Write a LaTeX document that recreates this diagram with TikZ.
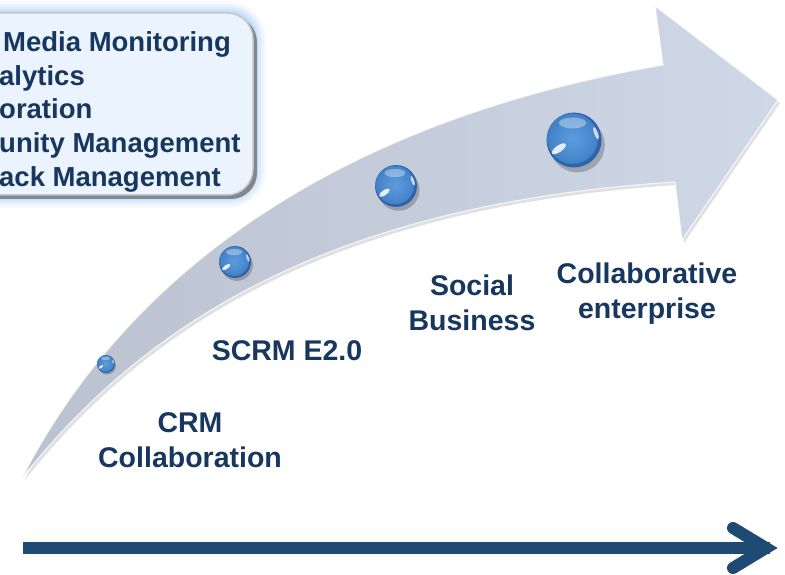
\documentclass[tikz,border=0pt]{standalone}
\usepackage{fontspec}
\setmainfont{Liberation Sans}
\definecolor{navy}{HTML}{17375E}
\definecolor{arrowA}{HTML}{BAC1CF}
\definecolor{arrowB}{HTML}{CFD8E7}
\definecolor{axis}{HTML}{1F4A74}
\definecolor{boxfill}{HTML}{EBF4FE}
\definecolor{halo}{HTML}{B3D3F4}
\definecolor{orbout}{HTML}{2F64A6}
\definecolor{orbin}{HTML}{5D9DDE}
\definecolor{orbmid}{HTML}{4281C6}
\tikzset{
  lbl/.style={font=\fontsize{28.5}{35}\selectfont\bfseries, text=navy, align=center, inner sep=0pt},
  boxt/.style={font=\fontsize{27.5}{30}\selectfont\bfseries, text=navy, inner sep=0pt, anchor=base west},
  orb/.pic={
    \fill[black, opacity=.22] (1.2,1.8) circle (10);
    \fill[orbout] (0,0) circle (10);
    \shade[inner color=orbin, outer color=orbmid] (-0.5,-0.5) circle (9.2);
    \fill[white, opacity=.35] (-0.5,-6.2) ellipse (5 and 2);
    \fill[white, opacity=.85, rotate around={35:(-5.5,3.2)}] (-5.5,3.2) ellipse (3 and 1.2);
    \fill[white, opacity=.7, rotate around={-70:(8,-2.5)}] (8,-2.5) ellipse (2.4 and 0.7);
  }
}
\begin{document}
\begin{tikzpicture}[x=1pt,y=-1pt]
\useasboundingbox (0,0) rectangle (785,575);
\clip (0,0) rectangle (785,575);
% curved arrow shadow
\fill[black, opacity=.12, shift={(2,3)}]
  (22,478) .. controls (150,230) and (400,110) .. (663,65) -- (655,6) -- (778,100)
  -- (682,240) -- (675,182) .. controls (320,205) and (140,330) .. (22,478) -- cycle;
% curved arrow
\path[left color=arrowA, right color=arrowB, draw=white, draw opacity=.7, line width=1.2pt, line join=round]
  (22,478) .. controls (150,230) and (400,110) .. (663,65) -- (655,6) -- (778,100)
  -- (682,240) -- (675,182) .. controls (320,205) and (140,330) .. (22,478) -- cycle;
% spheres
\pic[scale=0.9] (o1) at (106,364) {orb};
\pic[scale=1.6] (o2) at (235,262) {orb};
\pic[scale=2.1] (o3) at (396,186) {orb};
\pic[scale=2.75] (o4) at (574,140) {orb};
% box halo
\foreach \w/\o in {22/0.12,17/0.18,12/0.25,7/0.35,3/0.5}
  \draw[halo, line width=\w pt, opacity=\o, rounded corners=26pt] (-40,13) rectangle (255,197);
% box shadow and body
\fill[gray!85!black, opacity=.75, rounded corners=26pt] (-38,16) rectangle (257,199);
\draw[fill=boxfill, draw=gray!45, line width=1.5pt, rounded corners=26pt] (-40,13) rectangle (253,195);
% box text
\node[boxt] (b1) at (3,52) {Media Monitoring};
\node[boxt] (b2) at (-1,86) {alytics};
\node[boxt] (b3) at (-1,119) {oration};
\node[boxt] (b4) at (-1,153) {unity Management};
\node[boxt] (b5) at (-1,186) {ack Management};
% labels
\node[lbl] (crm) at (190,440) {CRM\\Collaboration};
\node[lbl] (scrm) at (287,351) {SCRM E2.0};
\node[lbl] (soc) at (472,303) {Social\\Business};
\node[lbl] (coll) at (647,294) {Collaborative\\enterprise};
% time axis
\coordinate (ax0) at (23,548);
\coordinate (ax1) at (770,548);
\coordinate (ch1) at (733,528);
\coordinate (chv) at (766,548);
\coordinate (ch2) at (733,568);
\draw[axis, line width=12pt] (ax0) -- (ax1);
\draw[axis, line width=12pt, line cap=round, line join=miter] (ch1) -- (chv) -- (ch2);
\end{tikzpicture}
\end{document}
